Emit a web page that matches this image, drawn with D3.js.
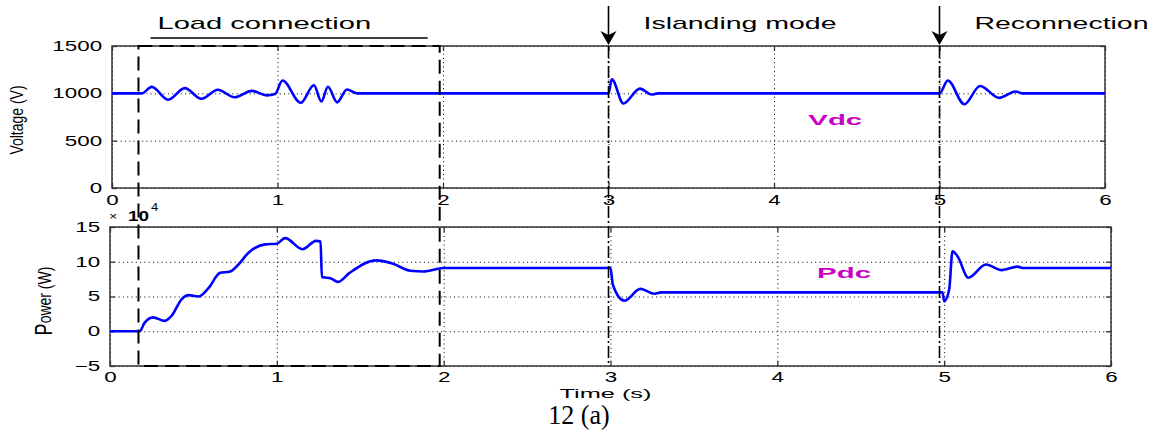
<!DOCTYPE html>
<html>
<head>
<meta charset="utf-8">
<script src="https://cdn.jsdelivr.net/npm/d3@7"></script>
<style>
	body{margin:0;background:#fff;}
	svg{display:block;font-family:"Liberation Sans",Arial,sans-serif;}
</style>
</head>
<body>
<script>
// Data
const timeTicks = [0, 1, 2, 3, 4, 5, 6];
const voltTicks = [0, 500, 1000, 1500];
const powerTicks = [-5, 0, 5, 10, 15];

// Vdc (V)
const vdcTime = [0, 0.18, 0.24, 0.34, 0.44, 0.54, 0.64, 0.74, 0.845, 0.935, 0.985, 1.03, 1.14, 1.22, 1.265, 1.305, 1.36, 1.42, 1.48,
	3.0, 3.02, 3.09, 3.19, 3.26, 3.3, 5.0, 5.05, 5.15, 5.245, 5.36, 5.46, 5.5, 6];
const vdcValue = [1000, 1000, 1068, 932, 1055, 942, 1038, 958, 1026, 978, 992, 1135, 900, 1085, 915, 1070, 905, 1040, 1000,
	1000, 1148, 892, 1050, 988, 1000, 1000, 1135, 885, 1078, 952, 1020, 1000, 1000];

// Pdc (x 10^4 W)
const pdcTime = [0, 0.177, 0.207, 0.258, 0.328, 0.369, 0.429, 0.469, 0.53, 0.59, 0.66, 0.72, 0.77, 0.83, 0.93, 1.0, 1.05, 1.154, 1.235, 1.262,
	1.27, 1.325, 1.366, 1.436, 1.597, 1.697, 1.8, 1.88, 2.0, 3.0, 3.014, 3.083, 3.18, 3.264, 3.305, 4.99, 5.0, 5.03, 5.05, 5.08,
	5.145, 5.25, 5.346, 5.44, 5.47, 6];
const pdcValue = [0, 0, 1.2, 2.0, 1.5, 2.2, 4.6, 5.2, 5.0, 6.2, 8.4, 8.6, 9.6, 11.3, 12.5, 12.6, 13.4, 11.8, 13.0, 12.9,
	7.8, 7.6, 7.1, 8.4, 10.2, 9.7, 8.7, 8.6, 9.1, 9.1, 6.7, 4.4, 6.1, 5.4, 5.6, 5.6, 4.3, 6.0, 11.5, 10.8,
	7.7, 9.6, 8.8, 9.3, 9.1, 9.1];

const eventTimes = [3, 5];
const eventLabels = ['Islanding mode', 'Reconnection'];
const loadWindow = [0.16, 1.98];
const loadLabel = 'Load connection';

(function(){
	let width = 1162, height = 432;
	let svg = d3.select('body').append('svg')
		.attr('width', width)
		.attr('height', height);
	svg.append('rect').attr('width', width).attr('height', height).attr('fill', '#fff');

	// Panel frames
	let topBox = {x0: 112, x1: 1105, y0: 46, y1: 188},
		botBox = {x0: 110, x1: 1111, y0: 227, y1: 366};

	let xTop = d3.scaleLinear().domain([0, 6]).range([topBox.x0, topBox.x1]),
		xBot = d3.scaleLinear().domain([0, 6]).range([botBox.x0, botBox.x1]),
		yV = d3.scaleLinear().domain([0, 1500]).range([topBox.y1, topBox.y0]),
		yP = d3.scaleLinear().domain([-5, 15]).range([botBox.y1, botBox.y0]);

	// stretched text, the original figure is wide
	function stext(g, x, y, str, sx, size, anchor){
		return g.append('text')
			.attr('transform', 'translate(' + x + ',' + y + ') scale(' + sx + ',1)')
			.attr('text-anchor', anchor || 'start')
			.attr('font-size', size)
			.attr('fill', '#000')
			.text(str);
	}

	function drawPanel(box, x, y, yTicks, xPad){
		let g = svg.append('g');
		let w = box.x1 - box.x0, h = box.y1 - box.y0;
		// grid
		g.append('g')
			.attr('transform', 'translate(0,' + box.y1 + ')')
			.call(d3.axisBottom(x).tickValues(timeTicks).tickSize(-h).tickFormat(''))
			.call(a => a.select('.domain').remove());
		g.append('g')
			.attr('transform', 'translate(' + box.x0 + ',0)')
			.call(d3.axisLeft(y).tickValues(yTicks).tickSize(-w).tickFormat(''))
			.call(a => a.select('.domain').remove());
		g.selectAll('.tick line')
			.attr('stroke', '#000')
			.attr('stroke-width', 1)
			.attr('stroke-dasharray', '1,3.3');

		// box
		g.append('rect')
			.attr('x', box.x0).attr('y', box.y0)
			.attr('width', w).attr('height', h)
			.attr('fill', 'none')
			.attr('stroke', '#333')
			.attr('stroke-width', 1.5);

		// inward ticks with labels
		let ax = g.append('g').attr('class', 'ax');
		ax.append('g')
			.attr('transform', 'translate(0,' + box.y1 + ')')
			.call(d3.axisBottom(x).tickValues(timeTicks).tickSizeInner(-5).tickSizeOuter(0).tickPadding(xPad).tickFormat(d3.format('d')));
		ax.append('g')
			.attr('transform', 'translate(0,' + box.y0 + ')')
			.call(d3.axisTop(x).tickValues(timeTicks).tickSizeInner(-5).tickSizeOuter(0).tickFormat(''));
		ax.append('g')
			.attr('transform', 'translate(' + box.x0 + ',0)')
			.call(d3.axisLeft(y).tickValues(yTicks).tickSizeInner(-5).tickSizeOuter(0).tickPadding(6.2).tickFormat(d3.format('d')));
		ax.append('g')
			.attr('transform', 'translate(' + box.x1 + ',0)')
			.call(d3.axisRight(y).tickValues(yTicks).tickSizeInner(-5).tickSizeOuter(0).tickFormat(''));
		ax.selectAll('.domain').remove();
		ax.selectAll('.tick line').attr('stroke', '#333').attr('stroke-width', 1.3);
		ax.selectAll('text')
			.attr('font-size', 14)
			.attr('font-family', '"Liberation Sans",Arial,sans-serif')
			.attr('fill', '#000')
			.attr('transform', 'scale(1.6,1)');
		return g;
	}

	drawPanel(topBox, xTop, yV, voltTicks, 7);
	drawPanel(botBox, xBot, yP, powerTicks, 6);

	// Curves
	let vLine = d3.line()
		.x(d => xTop(d[0]))
		.y(d => yV(d[1]))
		.curve(d3.curveMonotoneX);
	let pLine = d3.line()
		.x(d => xBot(d[0]))
		.y(d => yP(d[1]))
		.curve(d3.curveMonotoneX);

	svg.append('path')
		.datum(d3.zip(vdcTime, vdcValue))
		.attr('d', vLine)
		.attr('fill', 'none')
		.attr('stroke', '#0000ff')
		.attr('stroke-width', 2.6)
		.attr('stroke-linejoin', 'round');
	svg.append('path')
		.datum(d3.zip(pdcTime, pdcValue))
		.attr('d', pLine)
		.attr('fill', 'none')
		.attr('stroke', '#0000ff')
		.attr('stroke-width', 2.6)
		.attr('stroke-linejoin', 'round');

	// Series names
	stext(svg, xTop(4.37), yV(665), 'Vdc', 2.1, 14, 'middle')
		.attr('font-weight', 'bold').attr('fill', '#c800c8');
	stext(svg, xBot(4.4), yP(7.66), 'Pdc', 2.1, 14, 'middle')
		.attr('font-weight', 'bold').attr('fill', '#c800c8');

	// Axis titles
	svg.append('text')
		.attr('transform', 'translate(23,120) scale(1.35,1) rotate(-90)')
		.attr('text-anchor', 'middle')
		.attr('font-size', 14)
		.text('Voltage (V)');
	let pw = svg.append('text')
		.attr('transform', 'translate(52,301) scale(1.35,1) rotate(-90)')
		.attr('text-anchor', 'middle')
		.attr('font-size', 14);
	pw.append('tspan').attr('font-size', 18).text('P');
	pw.append('tspan').attr('dy', -1).text('ower  (W)');

	// exponent
	stext(svg, 109, 220, '\u00d7', 1.3, 11);
	stext(svg, 128, 221, '10', 1.35, 14).attr('font-weight', 'bold');
	stext(svg, 151, 211, '4', 1.3, 10);

	stext(svg, xBot(2.97), 398, 'Time  (s)', 1.95, 13, 'middle');
	svg.append('text')
		.attr('transform', 'translate(579,424) scale(0.93,1)')
		.attr('text-anchor', 'middle')
		.attr('font-size', 28)
		.attr('font-family', '"Liberation Serif","Times New Roman",serif')
		.text('12 (a)');

	// Load connection box
	let bx0 = xTop(loadWindow[0]), bx1 = xTop(loadWindow[1]);
	svg.append('rect')
		.attr('x', bx0).attr('y', topBox.y0)
		.attr('width', bx1 - bx0).attr('height', botBox.y1 - topBox.y0)
		.attr('fill', 'none')
		.attr('stroke', '#000')
		.attr('stroke-width', 2)
		.attr('stroke-dasharray', '14,7');
	svg.append('line')
		.attr('x1', bx0 + 12).attr('x2', bx1 - 12)
		.attr('y1', 38).attr('y2', 38)
		.attr('stroke', '#000')
		.attr('stroke-width', 1.6);
	stext(svg, bx0 + 19, 29, loadLabel, 1.82, 16);

	// Event markers
	eventTimes.forEach((t, i) => {
		let ex = xTop(t);
		svg.append('line')
			.attr('x1', ex).attr('x2', ex)
			.attr('y1', topBox.y0).attr('y2', botBox.y1)
			.attr('stroke', '#000')
			.attr('stroke-width', 1.6)
			.attr('stroke-dasharray', '12,3,2,3');
		svg.append('line')
			.attr('x1', ex).attr('x2', ex)
			.attr('y1', 6).attr('y2', 40)
			.attr('stroke', '#000')
			.attr('stroke-width', 1.6);
		svg.append('path')
			.attr('d', 'M' + (ex - 8) + ',31L' + ex + ',45L' + (ex + 8) + ',31L' + ex + ',35Z')
			.attr('fill', '#000');
		stext(svg, ex + 35, 29, eventLabels[i], 1.78, 16);
	});
})();
</script>
</body>
</html>
